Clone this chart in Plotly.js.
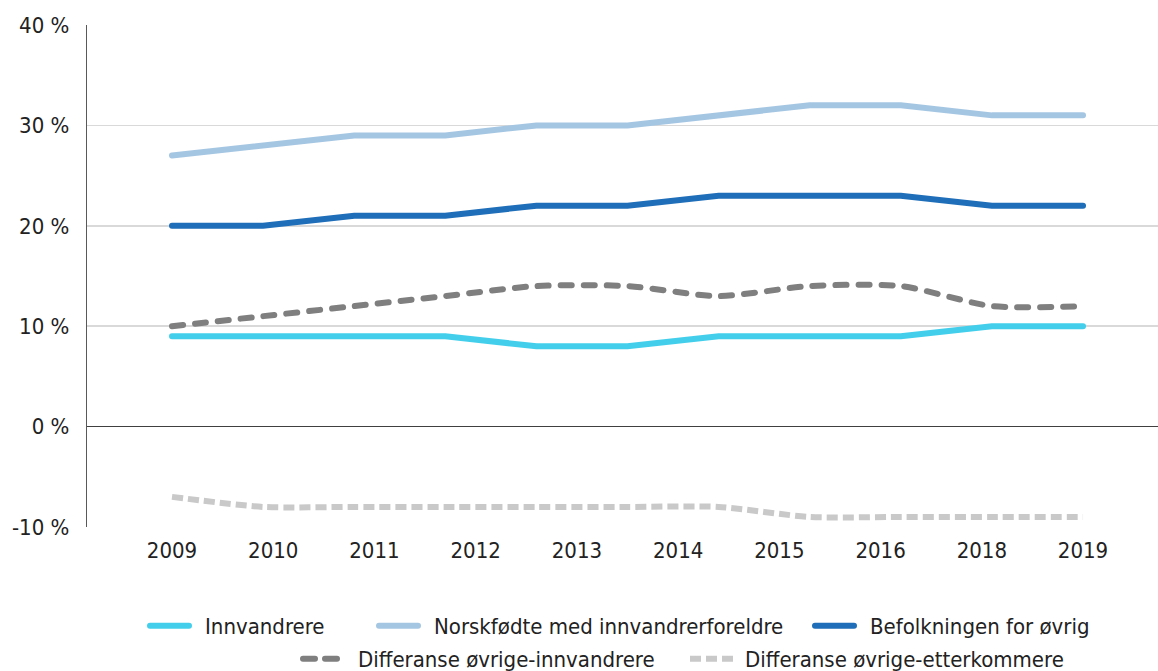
<!DOCTYPE html>
<html>
<head>
<meta charset="utf-8">
<script src="https://cdn.plot.ly/plotly-3.0.1.min.js"></script>
<style>
html,body{margin:0;padding:0;background:#fff;}
#chart{width:1158px;height:671px;}
#chart .scatterlayer .js-line{stroke-linecap:round;}
#chart .scatterlayer .trace:nth-child(5) .js-line{stroke-linecap:butt;}
#chart g.legend .legendlines .js-line,
#chart g.legend2 .legendlines .js-line,
#chart g.legend3 .legendlines .js-line{stroke-linecap:round;stroke-dasharray:39px 200px !important;}
#chart g.legend4 .legendlines .js-line{stroke-linecap:round;stroke-dasharray:12px 10px 12px 100px !important;}
#chart g.legend5 .legendlines .js-line{stroke-linecap:butt;stroke-dasharray:11px 5px 11px 5px 11px 100px !important;}
</style>
</head>
<body>
<div id="chart"></div>
<script>
// Tick labels on the category axis (10 labels spread over 11 data points, as in the source)
const yearLabels = ["2009", "2010", "2011", "2012", "2013", "2014", "2015", "2016", "2018", "2019"];
// Data point index (11 observations)
const points = [0, 1, 2, 3, 4, 5, 6, 7, 8, 9, 10];
// Y-axis tick values (percent)
const yTicks = [-10, 0, 10, 20, 30, 40];

const innvandrere      = [9, 9, 9, 9, 8, 8, 9, 9, 9, 10, 10];
const norskfodte       = [27, 28, 29, 29, 30, 30, 31, 32, 32, 31, 31];
const befolkningen     = [20, 20, 21, 21, 22, 22, 23, 23, 23, 22, 22];
const diffInnvandrere  = [10, 11, 12, 13, 14, 14, 13, 14, 14, 12, 12];
const diffEtterkommere = [-7, -8, -8, -8, -8, -8, -8, -9, -9, -9, -9];

const names = ["Innvandrere", "Norskfødte med innvandrerforeldre", "Befolkningen for øvrig",
               "Differanse øvrige-innvandrere", "Differanse øvrige-etterkommere"];

const FONT = "DejaVu Sans Condensed, DejaVu Sans, sans-serif";
const TXT = "#222222";
const FS = 22;

const nPts = points.length;
const tickvals = yearLabels.map((_, i) => i * (nPts - 1) / (yearLabels.length - 1));
const yTickText = yTicks.map(v => String(v) + " %");

const traces = [
  {x: points, y: innvandrere, name: names[0], mode: "lines", legend: "legend",
   line: {color: "#43CFEC", width: 6}},
  {x: points, y: norskfodte, name: names[1], mode: "lines", legend: "legend2",
   line: {color: "#A5C6E3", width: 6}},
  {x: points, y: befolkningen, name: names[2], mode: "lines", legend: "legend3",
   line: {color: "#1F6EB9", width: 6}},
  {x: points, y: diffInnvandrere, name: names[3], mode: "lines", legend: "legend4",
   line: {color: "#7F7F7F", width: 6, dash: "11px,12px", shape: "spline", smoothing: 0.7}},
  {x: points, y: diffEtterkommere, name: names[4], mode: "lines", legend: "legend5",
   line: {color: "#C9C9C9", width: 6, dash: "11px,5px", shape: "spline", smoothing: 0.7}}
];

const L = 87, R = 1158, T = 25, B = 527, W = 1158, H = 671;
const px2x = p => (p - L) / (R - L);
const py2y = p => (B - p) / (B - T);
function leg(xpx, ypx) {
  return {x: px2x(xpx), y: py2y(ypx), xanchor: "left", yanchor: "middle",
          orientation: "h", bgcolor: "rgba(0,0,0,0)", borderwidth: 0,
          itemwidth: 50, font: {family: FONT, size: FS, color: TXT}};
}

const layout = {
  width: W, height: H,
  margin: {l: L, r: W - R, t: T, b: H - B, pad: 0, autoexpand: false},
  paper_bgcolor: "#fff", plot_bgcolor: "#fff",
  showlegend: true,
  font: {family: FONT, size: FS, color: TXT},
  xaxis: {
    range: [-0.933, 10.823], tickmode: "array", tickvals: tickvals, ticktext: yearLabels,
    showgrid: false, zeroline: false, showline: false, ticks: "", ticklabelstandoff: 8,
    tickfont: {family: FONT, size: FS, color: TXT}, fixedrange: true, automargin: false
  },
  yaxis: {
    range: [-10, 40], tickmode: "array", tickvals: yTicks, ticktext: yTickText,
    showgrid: true, gridcolor: "#D9D9D9", gridwidth: 1.5,
    zeroline: true, zerolinecolor: "#404040", zerolinewidth: 1.2,
    showline: true, linecolor: "#595959", linewidth: 1.2,
    ticks: "", ticklabelstandoff: 12,
    tickfont: {family: FONT, size: FS, color: TXT}, fixedrange: true, automargin: false
  },
  legend: leg(145, 626),
  legend2: leg(374, 626),
  legend3: leg(810, 626),
  legend4: leg(298, 659),
  legend5: leg(685, 659)
};

Plotly.newPlot("chart", traces, layout, {displayModeBar: false, staticPlot: true});
</script>
</body>
</html>
